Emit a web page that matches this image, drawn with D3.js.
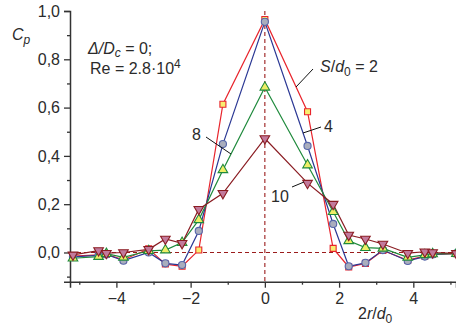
<!DOCTYPE html>
<html>
<head>
<meta charset="utf-8">
<script src="https://cdn.jsdelivr.net/npm/d3@7"></script>
<style>
  html, body { margin: 0; padding: 0; background: #fff; }
  svg { display: block; font-family: "Liberation Sans", Arial, sans-serif; }
</style>
</head>
<body>
<svg id="chart" width="456" height="330"></svg>
<script>
// Radial positions 2r/d0 of the pressure taps
const xPos = [-5.17, -4.48, -4.27, -3.81, -3.13, -2.68, -2.23, -1.78, -1.13, 0,
              1.15, 1.84, 2.26, 2.71, 3.18, 3.85, 4.31, 4.52, 5.16];

// Pressure coefficient Cp for each nozzle-to-plate spacing S/d0
const cpS2  = [-0.015, -0.010, -0.008, -0.030, 0.015, -0.048, -0.057, 0.010, 0.614, 0.965,
               0.583, 0.017, -0.060, -0.045, 0.008, -0.032, -0.015, -0.008, -0.005];
const cpS4  = [-0.018, -0.012, -0.008, -0.034, 0.000, -0.045, -0.052, 0.089, 0.449, 0.955,
               0.441, 0.118, -0.057, -0.043, 0.010, -0.035, -0.017, -0.008, -0.004];
const cpS8  = [-0.024, -0.017, -0.005, -0.020, 0.007, 0.010, 0.041, 0.135, 0.342, 0.684,
               0.362, 0.169, 0.048, 0.020, 0.017, -0.020, -0.010, -0.006, -0.005];
const cpS10 = [-0.010, 0.008, -0.003, 0.000, 0.013, 0.056, 0.038, 0.179, 0.245, 0.472,
               0.287, 0.200, 0.072, 0.056, 0.035, -0.003, 0.003, 0.000, -0.004];

const xTicks = [-4, -2, 0, 2, 4];
const xMinorTicks = [-5, -3, -1, 1, 3, 5];
const yTicks = [0, 0.2, 0.4, 0.6, 0.8, 1.0];
const yMinorTicks = [-0.1, 0.1, 0.3, 0.5, 0.7, 0.9];

const series = [
  { values: cpS2,  line: "#e8242c", stroke: "#e8242c", fill: "#f8ee70", shape: "square" },
  { values: cpS4,  line: "#2b3894", stroke: "#5566aa", fill: "#a9adbd", shape: "circle" },
  { values: cpS8,  line: "#1f8a3c", stroke: "#1f8a3c", fill: "#eeee66", shape: "triangleUp" },
  { values: cpS10, line: "#8a1c22", stroke: "#8a1c22", fill: "#c27a9c", shape: "triangleDown" }
];

const svg = d3.select("#chart");
const axisColor = "#333";
const textColor = "#2b2b2b";
const fontSize = 16;
const subSize = 12;

const x = d3.scaleLinear().domain([-5.25, 5.15]).range([70, 456]);
const y = d3.scaleLinear().domain([-0.121, 1.0]).range([281.7, 11]);

const fmt = d => d3.format(".1f")(d).replace(".", ",");
const xfmt = d => (d < 0 ? "\u2212" + Math.abs(d) : String(d));

// Reference lines at Cp = 0 and at the jet axis
svg.append("line")
  .attr("x1", x.range()[0]).attr("x2", x.range()[1])
  .attr("y1", y(0)).attr("y2", y(0))
  .attr("stroke", "#9b1c1c").attr("stroke-width", 1.1).attr("stroke-dasharray", "4,3");
svg.append("line")
  .attr("x1", x(0)).attr("x2", x(0))
  .attr("y1", y.range()[1]).attr("y2", y.range()[0])
  .attr("stroke", "#9b1c1c").attr("stroke-width", 1.1).attr("stroke-dasharray", "4,3");

// Axes
const gx = svg.append("g").attr("transform", `translate(0,${y.range()[0]})`);
gx.call(d3.axisBottom(x).tickValues(xTicks).tickFormat(xfmt).tickSize(6).tickPadding(5));
gx.append("g").call(d3.axisBottom(x).tickValues(xMinorTicks).tickFormat("").tickSize(3))
  .select(".domain").remove();

const gy = svg.append("g").attr("transform", `translate(${x.range()[0]},0)`);
gy.call(d3.axisLeft(y).tickValues(yTicks).tickFormat(fmt).tickSize(6).tickPadding(4));
gy.append("g").call(d3.axisLeft(y).tickValues(yMinorTicks).tickFormat("").tickSize(3))
  .select(".domain").remove();

[gx, gy].forEach(g => {
  g.selectAll(".domain").attr("stroke", axisColor).attr("stroke-width", 1.5);
  g.selectAll(".tick line").attr("stroke", axisColor).attr("stroke-width", 1.3);
  g.selectAll(".tick text").attr("fill", textColor).style("font-size", fontSize + "px");
});

// Series lines and markers
const line = d3.line().x((d, i) => x(xPos[i])).y(d => y(d));
const symbolType = {
  square: d3.symbolSquare, circle: d3.symbolCircle,
  triangleUp: d3.symbolTriangle, triangleDown: d3.symbolTriangle
};
const symbolSize = { square: 36, circle: 40, triangleUp: 40, triangleDown: 40 };

series.forEach(s => {
  svg.append("path").datum(s.values)
    .attr("d", line).attr("fill", "none")
    .attr("stroke", s.line).attr("stroke-width", 1.2);
});
series.forEach(s => {
  const sym = d3.symbol().type(symbolType[s.shape]).size(symbolSize[s.shape]);
  svg.append("g").selectAll("path").data(s.values).join("path")
    .attr("d", sym)
    .attr("transform", (d, i) =>
      `translate(${x(xPos[i])},${y(d)})` + (s.shape === "triangleDown" ? " rotate(180)" : ""))
    .attr("fill", s.fill).attr("stroke", s.stroke).attr("stroke-width", 1.1);
});

// Text helpers
function label(xp, yp, parts, size = fontSize) {
  const t = svg.append("text").attr("x", xp).attr("y", yp)
    .attr("fill", textColor).style("font-size", size + "px");
  parts.forEach(p => {
    const ts = t.append("tspan").text(p.text);
    if (p.italic) ts.style("font-style", "italic");
    if (p.dy) ts.attr("dy", p.dy);
    if (p.size) ts.style("font-size", p.size + "px");
  });
  return t;
}
function leader(x1, y1, x2, y2) {
  svg.append("line").attr("x1", x1).attr("y1", y1).attr("x2", x2).attr("y2", y2)
    .attr("stroke", "#111").attr("stroke-width", 1);
}

// Axis titles
label(12, 40, [{ text: "C", italic: true }, { text: "p", italic: true, dy: 4, size: subSize }]);
label(358, 319, [{ text: "2" }, { text: "r", italic: true }, { text: "/" },
                 { text: "d", italic: true }, { text: "0", dy: 4, size: subSize }]);

// Flow conditions
label(88, 54, [{ text: "\u0394/D", italic: true }, { text: "c", italic: true, dy: 3, size: subSize },
               { text: " = 0;", dy: -3 }]);
label(90, 74, [{ text: "Re = 2.8\u00b710" }, { text: "4", dy: -6, size: subSize }]);

// Series labels with leader lines
label(320, 72, [{ text: "S", italic: true }, { text: "/" }, { text: "d", italic: true },
                { text: "0", dy: 4, size: subSize }, { text: " = 2", dy: -4 }]);
leader(313, 69, 296, 87);
label(324, 132, [{ text: "4" }]);
leader(321, 127, 303, 133);
label(192, 140, [{ text: "8" }]);
leader(206, 137, 231, 154);
label(271, 202, [{ text: "10" }]);
leader(292, 187, 304, 182);
</script>
</body>
</html>
